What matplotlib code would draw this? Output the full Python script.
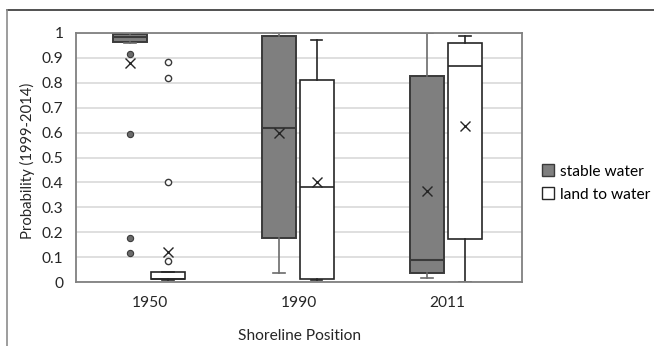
import matplotlib
matplotlib.use("Agg")
import matplotlib.pyplot as plt
from matplotlib.lines import Line2D
from matplotlib.patches import Patch

plt.rcParams["font.family"] = ["Lato", "DejaVu Sans"]

# Summary values per shoreline year (probability, 1999-2014)
years = ["1950", "1990", "2011"]

stable_whislo = [0.96, 0.036, 0.015]
stable_q1 = [0.964, 0.178, 0.036]
stable_med = [0.985, 0.62, 0.087]
stable_q3 = [0.995, 0.988, 0.826]
stable_whishi = [1.0, 1.0, 1.0]
stable_mean = [0.878, 0.597, 0.367]
stable_fliers = [[0.916, 0.593, 0.175, 0.118], [], []]

land_whislo = [0.008, 0.01, 0.0]
land_q1 = [0.013, 0.013, 0.173]
land_med = [0.013, 0.38, 0.867]
land_q3 = [0.041, 0.81, 0.959]
land_whishi = [0.041, 0.97, 0.989]
land_mean = [0.122, 0.403, 0.627]
land_fliers = [[0.882, 0.818, 0.40, 0.084], [], []]


def make_stats(lo, q1, med, q3, hi, mean, fliers):
    out = []
    for i in range(len(lo)):
        out.append(dict(whislo=lo[i], q1=q1[i], med=med[i], q3=q3[i],
                        whishi=hi[i], mean=mean[i], fliers=fliers[i]))
    return out


fs = 11.2
fig = plt.figure(figsize=(6.54, 3.46), dpi=100)
ax = fig.add_axes([76 / 654, 1 - 282 / 346, 446 / 654, 249 / 346])

ax.set_ylim(0, 1)
ax.set_xlim(-0.5, 2.5)
ax.set_yticks([i / 10 for i in range(11)])
ax.set_yticklabels(["0"] + ["0.%d" % i for i in range(1, 10)] + ["1"])
ax.yaxis.grid(True, color="#d9d9d9", linewidth=1.2)
ax.set_axisbelow(True)

width = 0.229
pos_stable = [i - 0.137 for i in range(3)]
pos_land = [i + 0.118 for i in range(3)]

mean_style = dict(marker="x", markersize=7, markeredgecolor="#262626",
                  markeredgewidth=1.0)

ax.bxp(make_stats(stable_whislo, stable_q1, stable_med, stable_q3,
                  stable_whishi, stable_mean, stable_fliers),
       positions=pos_stable, widths=width, patch_artist=True,
       showmeans=True, showcaps=True,
       boxprops=dict(facecolor="#7f7f7f", edgecolor="#3a3a3a", linewidth=1.4),
       medianprops=dict(color="#3a3a3a", linewidth=1.5),
       whiskerprops=dict(color="#6b6b6b", linewidth=1.2),
       capprops=dict(color="#6b6b6b", linewidth=1.2),
       capwidths=0.08,
       flierprops=dict(marker="o", markersize=4.5, markerfacecolor="#6b6b6b",
                       markeredgecolor="#3a3a3a", markeredgewidth=0.8),
       meanprops=mean_style)

ax.bxp(make_stats(land_whislo, land_q1, land_med, land_q3,
                  land_whishi, land_mean, land_fliers),
       positions=pos_land, widths=width, patch_artist=True,
       showmeans=True, showcaps=True,
       boxprops=dict(facecolor="white", edgecolor="#262626", linewidth=1.2),
       medianprops=dict(color="#262626", linewidth=1.2),
       whiskerprops=dict(color="#262626", linewidth=1.2),
       capprops=dict(color="#262626", linewidth=1.2),
       capwidths=0.08,
       flierprops=dict(marker="o", markersize=4.5, markerfacecolor="white",
                       markeredgecolor="#3a3a3a", markeredgewidth=1.0),
       meanprops=mean_style)

ax.set_xticks(range(3))
ax.set_xticklabels(years)
ax.tick_params(axis="both", length=0, labelsize=fs, colors="#262626")
ax.tick_params(axis="x", pad=10)
ax.tick_params(axis="y", pad=9)
for s in ax.spines.values():
    s.set_color("#808080")
    s.set_linewidth(1.3)

ax.set_ylabel("Probability (1999-2014)", fontsize=10.7, color="#262626")
ax.yaxis.set_label_coords(-0.093, 0.485)
ax.set_xlabel("Shoreline Position", fontsize=fs, color="#262626",
              labelpad=14)

handles = [Patch(facecolor="#7f7f7f", edgecolor="#3a3a3a", label="stable water"),
           Patch(facecolor="white", edgecolor="#262626", label="land to water")]
fig.legend(handles=handles, loc="center left",
           bbox_to_anchor=(528 / 654, 1 - 183 / 346), frameon=False,
           fontsize=fs, handlelength=0.8, handleheight=0.8,
           handletextpad=0.35, labelspacing=0.55)

# outer frame lines
fig.add_artist(Line2D([7 / 654, 1], [1 - 10 / 346, 1 - 10 / 346],
                      color="#333333", linewidth=1.2))
fig.add_artist(Line2D([7 / 654, 7 / 654], [0, 1 - 10 / 346],
                      color="#8c8c8c", linewidth=1.2))

fig.savefig("out.png", dpi=100)
